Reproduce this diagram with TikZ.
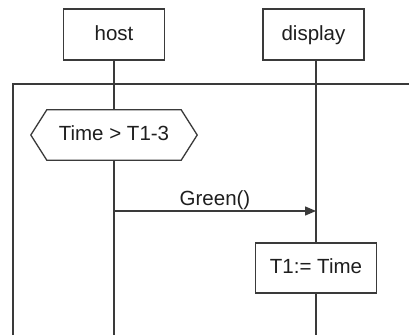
\documentclass[tikz,border=0pt]{standalone}
\usepackage{fontspec}
\setmainfont{Liberation Sans}
\usetikzlibrary{calc,arrows.meta}
\definecolor{ink}{HTML}{3A3A3A}
\definecolor{txt}{HTML}{1E1E1E}
\begin{document}
\begin{tikzpicture}[x=1pt,y=1pt,
  every node/.style={font=\fontsize{20.5}{24}\selectfont, text=txt, text height=15pt, text depth=4pt},
  line/.style={draw=ink, line width=1.3pt},
  lifebox/.style={line, rectangle, minimum width=101pt, minimum height=51pt, inner sep=0pt},
  actbox/.style={line, rectangle, minimum width=121pt, minimum height=50pt, inner sep=0pt},
  guardbox/.style={rectangle, minimum width=134pt, minimum height=50pt, inner sep=0pt},
  msg/.style={line, -{Triangle[length=11pt,width=9pt]}}
]
\useasboundingbox (0,0) rectangle (409,-335);
\fill[white] (0,0) rectangle (409,-335);

% lifeline heads
\node[lifebox] (host) at (114,-34.5) {host};
\node[lifebox] (disp) at (313.5,-34.5) {display};

% frame (open to the right and bottom)
\coordinate (fbl) at (13,-335);
\coordinate (ftl) at (13,-84);
\coordinate (ftr) at (409,-84);
\draw[line] (fbl) -- (ftl) -- (ftr);

% guard condition on host
\node[guardbox] (guard) at (114,-135) {Time > T1-3};
\draw[line] ($(guard.west)+(-16,0)$) -- (guard.north west) -- (guard.north east)
  -- ($(guard.east)+(16,0)$) -- (guard.south east) -- (guard.south west) -- cycle;

% action on display
\node[actbox] (act) at (316,-268) {T1:= Time};

% lifeline ends
\coordinate (hostend) at (114,-335);
\coordinate (dispend) at (316,-335);

% lifelines
\draw[line] (host.south) -- (guard.north);
\draw[line] (guard.south) -- (hostend);
\draw[line] (disp.south -| act.north) -- (act.north);
\draw[line] (act.south) -- (dispend);

% message
\coordinate (m1) at (114,-211);
\coordinate (m2) at (316,-211);
\draw[msg] (m1) -- node[above, yshift=-2pt] {Green()} (m2);
\end{tikzpicture}
\end{document}
